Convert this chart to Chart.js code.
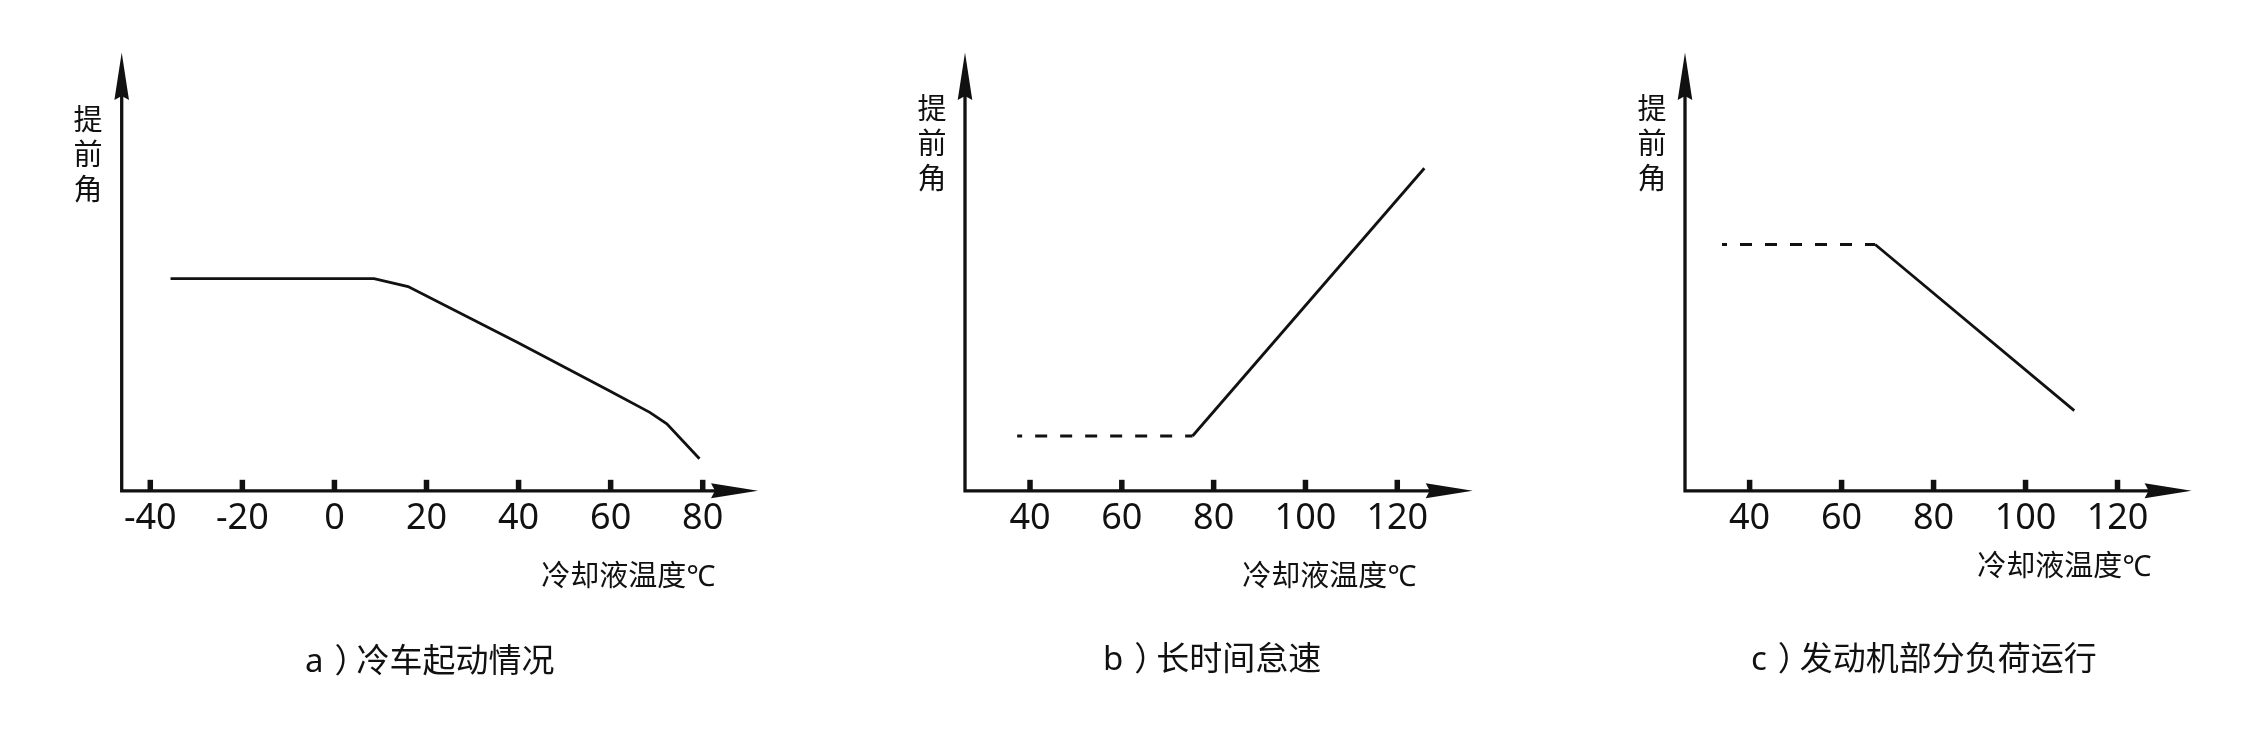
<!DOCTYPE html>
<html>
<head>
<meta charset="utf-8">
<script src="https://cdn.jsdelivr.net/npm/chart.js@4.4.1/dist/chart.umd.min.js"></script>
<style>
  body { margin: 0; width: 2245px; height: 740px; background: #fff; position: relative; overflow: hidden;
         font-family: "Noto Sans", "Noto Sans CJK SC", sans-serif; color: #111; }
  canvas { position: absolute; top: 0; }
  .ylab { position: absolute; width: 40px; text-align: center; font-size: 29px; line-height: 35px; }
  .xlab { position: absolute; font-size: 29px; line-height: 36px; white-space: nowrap; }
  .cap { position: absolute; font-size: 33px; line-height: 40px; white-space: nowrap; }
  .cap .pr { position: relative; left: 11px; }
</style>
</head>
<body>
<canvas id="coldChart" width="830" height="740" style="left:0px"></canvas>
<canvas id="idleChart" width="710" height="740" style="left:830px"></canvas>
<canvas id="partChart" width="705" height="740" style="left:1540px"></canvas>

<div class="ylab" style="left:68px;top:101px">提<br>前<br>角</div>
<div class="ylab" style="left:912px;top:90px">提<br>前<br>角</div>
<div class="ylab" style="left:1632px;top:90px">提<br>前<br>角</div>

<div class="xlab" style="right:1530px;top:557px">冷却液温度℃</div>
<div class="xlab" style="right:829px;top:557px">冷却液温度℃</div>
<div class="xlab" style="right:94px;top:547px">冷却液温度℃</div>

<div class="cap" style="left:305px;top:640px">a<span class="pr">）</span>冷车起动情况</div>
<div class="cap" style="left:1103px;top:638px">b<span class="pr">）</span>长时间怠速</div>
<div class="cap" style="left:1751px;top:638px">c<span class="pr">）</span>发动机部分负荷运行</div>

<script>
// a) cold start
const coldTicks = [-40, -20, 0, 20, 40, 60, 80];
const coldX = [-35.6, 8.6, 16.0, 39.7, 59.2, 68.5, 72.2, 79.3];
const coldY = [48.4, 48.4, 46.6, 33.9, 23.1, 17.9, 15.3, 7.3];

// b) long idle
const idleTicks = [40, 60, 80, 100, 120];
const idleDashX = [37.2, 75.4];
const idleDashY = [12.5, 12.5];
const idleX = [75.4, 125.9];
const idleY = [12.5, 73.6];

// c) part load
const partTicks = [40, 60, 80, 100, 120];
const partDashX = [34.0, 67.3];
const partDashY = [56.2, 56.2];
const partX = [67.3, 110.6];
const partY = [56.2, 18.3];

const ink = '#111';

function pts(xs, ys) {
    return xs.map((x, i) => ({ x: x, y: ys[i] }));
}

function lineSet(xs, ys, dashed) {
    return {
        data: pts(xs, ys),
        borderColor: ink,
        borderWidth: dashed ? 2.8 : 2.8,
        borderDash: dashed ? [12, 13] : [],
        borderDashOffset: dashed ? 7 : 0,
        pointRadius: 0,
        tension: 0,
        fill: false
    };
}

// axes with arrows and upward tick marks
const arrowAxes = {
    id: 'arrowAxes',
    afterDraw(chart) {
        const { ctx, chartArea: a, scales } = chart;
        const x0 = a.left, y0 = a.bottom;
        ctx.save();
        ctx.strokeStyle = ink;
        ctx.fillStyle = ink;
        ctx.lineWidth = 3.3;
        ctx.beginPath();
        ctx.moveTo(x0, y0 + 1.65);
        ctx.lineTo(x0, a.top + 40);
        ctx.moveTo(x0 - 1.65, y0);
        ctx.lineTo(a.right - 40, y0);
        ctx.stroke();

        // y arrow
        ctx.beginPath();
        ctx.moveTo(x0, a.top);
        ctx.lineTo(x0 + 7.3, a.top + 47.5);
        ctx.lineTo(x0, a.top + 43.5);
        ctx.lineTo(x0 - 7.3, a.top + 47.5);
        ctx.closePath();
        ctx.fill();

        // x arrow
        ctx.beginPath();
        ctx.moveTo(a.right, y0);
        ctx.lineTo(a.right - 47, y0 - 7.5);
        ctx.lineTo(a.right - 43, y0);
        ctx.lineTo(a.right - 47, y0 + 7.5);
        ctx.closePath();
        ctx.fill();

        // tick marks
        scales.x.ticks.forEach(t => {
            const px = scales.x.getPixelForValue(t.value);
            ctx.fillRect(px - 2.75, y0 - 11, 5.5, 11);
        });
        ctx.restore();
    }
};

function makePanel(id, datasets, tickVals, xMin, xMax, padLeft, padRight) {
    return new Chart(document.getElementById(id), {
        type: 'scatter',
        data: { datasets: datasets.map(d => Object.assign({ showLine: true }, d)) },
        options: {
            responsive: false,
            animation: false,
            devicePixelRatio: 1,
            layout: { padding: { left: padLeft, right: padRight, top: 52.5, bottom: 202 } },
            plugins: { legend: { display: false }, tooltip: { enabled: false } },
            scales: {
                x: {
                    type: 'linear',
                    min: xMin,
                    max: xMax,
                    grid: { display: false },
                    border: { display: false },
                    afterBuildTicks: s => { s.ticks = tickVals.map(v => ({ value: v })); },
                    ticks: {
                        color: ink,
                        padding: -2,
                        autoSkip: false,
                        maxRotation: 0,
                        font: { family: '"Noto Sans", "Noto Sans CJK SC", sans-serif', size: 36 },
                        callback: v => String(v)
                    }
                },
                y: { type: 'linear', display: false, min: 0, max: 100 }
            }
        },
        plugins: [arrowAxes]
    });
}

makePanel('coldChart', [lineSet(coldX, coldY, false)], coldTicks, -46.21, 92.01, 121.7, 72);
makePanel('idleChart', [lineSet(idleDashX, idleDashY, true), lineSet(idleX, idleY, false)],
    idleTicks, 25.84, 136.43, 135, 67.3);
makePanel('partChart', [lineSet(partDashX, partDashY, true), lineSet(partX, partY, false)],
    partTicks, 25.95, 136.11, 145, 53.4);
</script>
</body>
</html>
